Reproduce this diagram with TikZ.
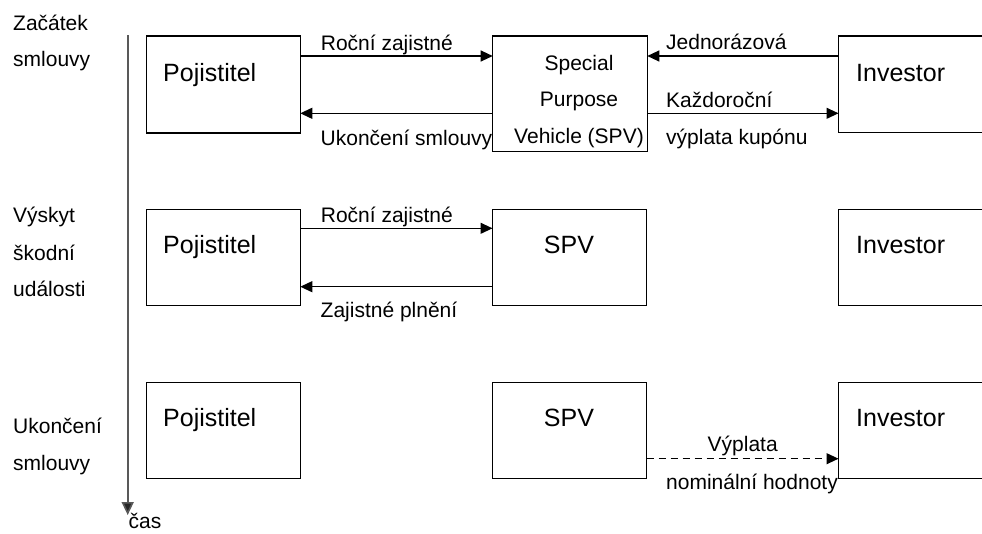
\documentclass[tikz,border=0pt]{standalone}
\usepackage{fontspec}
\setmainfont{Liberation Sans}
\usetikzlibrary{arrows.meta,calc}
\begin{document}
\begin{tikzpicture}[x=1pt,y=-1pt,
  box/.style={draw, line width=1.5pt, inner sep=0pt, outer sep=0pt, anchor=north west},
  big/.style={font=\fontsize{25}{30}\selectfont, inner sep=0pt},
  lab/.style={font=\fontsize{21}{25}\selectfont, inner sep=0pt},
  arr/.style={line width=1.2pt, -{Triangle[length=12pt,width=11pt]}},
  dasharr/.style={arr, dash pattern=on 7pt off 5pt},
  timeline/.style={line width=1.6pt, draw=black!65, -{Triangle[length=13pt,width=12pt,fill=black!85]}}]
\clip (0,0) rectangle (982,533);
\fill[white] (0,0) rectangle (982,533);

% time axis
\coordinate (tstart) at (127.7,35);
\coordinate (tend) at (127.7,515);
\draw[timeline] (tstart) -- (tend);
\node[lab, anchor=base west] (cas) at (128.5,528.5) {čas};

% left labels
\node[lab, anchor=base west] (l1a) at (13,30.7) {Začátek};
\node[lab, anchor=base west] (l1b) at (13,66.7) {smlouvy};
\node[lab, anchor=base west] (l2a) at (13,222.7) {Výskyt};
\node[lab, anchor=base west] (l2b) at (13,260) {škodní};
\node[lab, anchor=base west] (l2c) at (13,296.7) {události};
\node[lab, anchor=base west] (l3a) at (13,433.3) {Ukončení};
\node[lab, anchor=base west] (l3b) at (13,470) {smlouvy};

% row 1 boxes
\node[box, minimum width=153.6pt, minimum height=97pt] (p1) at (146.7,36) {};
\node[box, minimum width=154.6pt, minimum height=115.7pt] (s1) at (492.7,36) {};
\node[box, minimum width=200pt, minimum height=96.5pt] (i1) at (838.5,36) {};
\node[big, anchor=base west] (p1t) at (163,81.7) {Pojistitel};
\node[lab, anchor=base] (s1a) at (579,70) {Special};
\node[lab, anchor=base] (s1b) at (579,106.7) {Purpose};
\node[lab, anchor=base] (s1c) at (579,143.3) {Vehicle (SPV)};
\node[big, anchor=base west] (i1t) at (856,81.7) {Investor};

% row 2 boxes
\node[box, minimum width=153.6pt, minimum height=96.4pt] (p2) at (146.7,209.3) {};
\node[box, minimum width=154.2pt, minimum height=96.4pt] (s2) at (492.5,209.3) {};
\node[box, minimum width=200pt, minimum height=96.4pt] (i2) at (838.5,209.3) {};
\node[big, anchor=base west] (p2t) at (163,253.3) {Pojistitel};
\node[big, anchor=base] (s2t) at (569,253.3) {SPV};
\node[big, anchor=base west] (i2t) at (856,253.3) {Investor};

% row 3 boxes
\node[box, minimum width=153.6pt, minimum height=96pt] (p3) at (146.7,382.3) {};
\node[box, minimum width=154.2pt, minimum height=96pt] (s3) at (492.5,382.3) {};
\node[box, minimum width=200pt, minimum height=96pt] (i3) at (838.5,382.3) {};
\node[big, anchor=base west] (p3t) at (163,426.7) {Pojistitel};
\node[big, anchor=base] (s3t) at (569,426.7) {SPV};
\node[big, anchor=base west] (i3t) at (856,426.7) {Investor};

% row 1 arrows
\coordinate (r1a) at ([yshift=-20pt]p1.north east);
\draw[arr] (r1a) -- (r1a -| s1.west);
\coordinate (r1b) at ([yshift=-77.3pt]s1.north west);
\draw[arr] (r1b) -- (r1b -| p1.east);
\coordinate (r1c) at ([yshift=-20pt]i1.north west);
\draw[arr] (r1c) -- (r1c -| s1.east);
\coordinate (r1d) at ([yshift=-77.3pt]s1.north east);
\draw[arr] (r1d) -- (r1d -| i1.west);
\node[lab, anchor=base west] (t1a) at (320.7,50) {Roční zajistné};
\node[lab, anchor=base west] (t1b) at (320.5,145) {Ukončení smlouvy};
\node[lab, anchor=base west] (t1c) at (666,49.3) {Jednorázová};
\node[lab, anchor=base west] (t1d) at (666,107.3) {Každoroční};
\node[lab, anchor=base west] (t1e) at (666,144.3) {výplata kupónu};

% row 2 arrows
\coordinate (r2a) at ([yshift=-19pt]p2.north east);
\draw[arr] (r2a) -- (r2a -| s2.west);
\coordinate (r2b) at ([yshift=-77.4pt]s2.north west);
\draw[arr] (r2b) -- (r2b -| p2.east);
\node[lab, anchor=base west] (t2a) at (320.7,222.7) {Roční zajistné};
\node[lab, anchor=base west] (t2b) at (320.5,317.7) {Zajistné plnění};

% row 3 arrow
\coordinate (r3a) at ([yshift=-76.4pt]s3.north east);
\draw[dasharr] (r3a) -- (r3a -| i3.west);
\node[lab, anchor=base] (t3a) at (742.7,451.7) {Výplata};
\node[lab, anchor=base west] (t3b) at (666,489.3) {nominální hodnoty};
\end{tikzpicture}
\end{document}
